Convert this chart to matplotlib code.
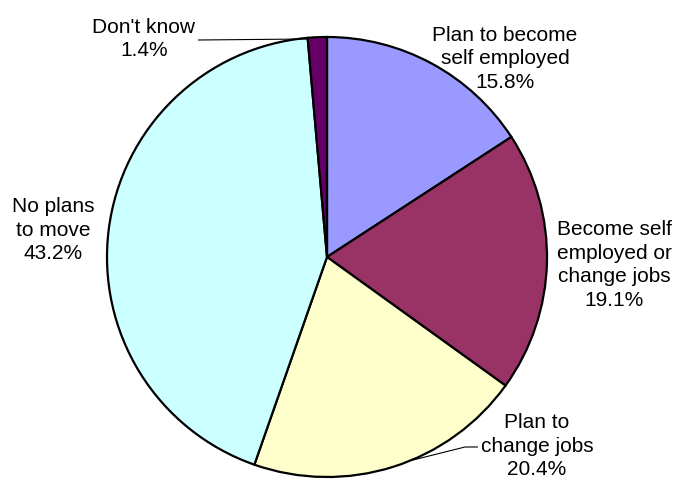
import matplotlib
matplotlib.use("Agg")
import matplotlib.pyplot as plt

categories = ["Plan to become\nself employed", "Become self\nemployed or\nchange jobs",
              "Plan to\nchange jobs", "No plans\nto move", "Don't know"]
values = [15.8, 19.1, 20.4, 43.2, 1.4]
colors = ["#9999FF", "#993366", "#FFFFCC", "#CCFFFF", "#660066"]

W, H = 673, 483
fig = plt.figure(figsize=(W / 100, H / 100), dpi=100)
ax = fig.add_axes([0, 0, 1, 1])
cx, cy, r = 327, H - 257, 220
ax.pie(values, colors=colors, startangle=90, counterclock=False,
       center=(cx, cy), radius=r,
       wedgeprops=dict(edgecolor="black", linewidth=1.6))
ax.set_xlim(0, W)
ax.set_ylim(0, H)
ax.set_aspect("equal")
ax.axis("off")

# label centres (pixel coords from top-left)
label_pos = [(505, 59), (614, 265), (537, 446), (53, 230), (144, 39)]
leaders = {2: [(413, 460), (465, 447), (478, 447)],
           4: [(307, 39), (198, 40)]}

font = dict(family=["Liberation Sans", "DejaVu Sans"], fontsize=15)
for i, (name, v) in enumerate(zip(categories, values)):
    x, y = label_pos[i]
    ax.text(x, H - y, f"{name}\n{v:.1f}%", ha="center", va="center",
            linespacing=1.3, color="black", **font)
    if i in leaders:
        pts = leaders[i]
        ax.plot([p[0] for p in pts], [H - p[1] for p in pts],
                color="black", lw=0.8, solid_capstyle="butt")

fig.savefig("out.png", dpi=100, facecolor="white")
